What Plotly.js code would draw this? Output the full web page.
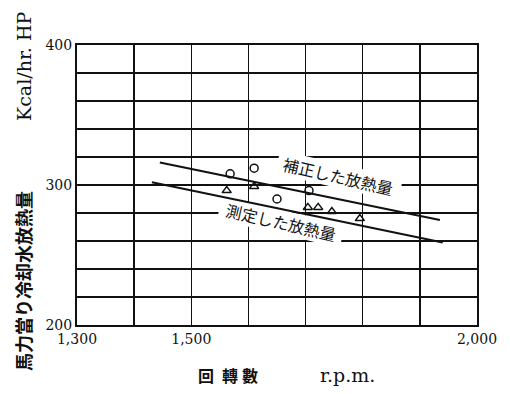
<!DOCTYPE html>
<html><head><meta charset="utf-8">
<script src="https://cdn.plot.ly/plotly-3.0.1.min.js"></script>
<style>html,body{margin:0;padding:0;background:#fff;}#c{width:510px;height:394px;}</style>
</head><body><div id="c"></div>
<script>
// 補正した放熱量 (circles)
const corrRpm = [1568, 1610, 1706, 1650];
const corrVal = [308, 312, 296, 290];
// 測定した放熱量 (triangles)
const measRpm = [1562, 1610, 1704, 1722, 1746, 1795];
const measVal = [296, 299, 284, 284, 281, 276];
// fitted lines
const corrLineRpm = [1445, 1935];
const corrLineVal = [316, 275];
const measLineRpm = [1431, 1940];
const measLineVal = [302, 259];
// ticks
const xTicks = [1300, 1400, 1500, 1600, 1700, 1800, 1900, 2000];
const xTickText = ["1,300", "", "1,500", "", "", "", "", "2,000"];
const yTicks = [200, 220, 240, 260, 280, 300, 320, 340, 360, 380, 400];
const yTickText = ["200", "", "", "", "", "300", "", "", "", "", "400"];
const labels = ["補正した放熱量", "測定した放熱量"];
const xTitleParts = ["回", "轉", "數", "r.p.m."];
const yTitleParts = ["馬力當り冷却水放熱量", "Kcal/hr. HP"];

const serif = "DejaVu Serif, Liberation Serif, serif";
const jp = "Noto Sans CJK JP, sans-serif";

const traces = [
  {x: corrLineRpm, y: corrLineVal, mode: 'lines', line: {color: '#111', width: 2}, hoverinfo: 'skip'},
  {x: measLineRpm, y: measLineVal, mode: 'lines', line: {color: '#111', width: 2}, hoverinfo: 'skip'},
  {x: corrRpm, y: corrVal, mode: 'markers', marker: {symbol: 'circle-open', size: 8, color: '#111', line: {width: 1.5}}},
  {x: measRpm, y: measVal, mode: 'markers', marker: {symbol: 'triangle-up-open', size: 8, color: '#111', line: {width: 1.5}}}
];

const L = 77, R = 477, T = 45, B = 325;
const W = R - L, H = B - T;
function px(xp, yp) { return {x: (xp - L) / W, y: (B - yp) / H}; }
function toData(xp, yp) { return [1300 + (xp - L) / W * 700, 200 + (B - yp) / H * 200]; }
function paperAnn(text, xp, yp, font, angle) {
  const p = px(xp, yp);
  return {text: text, x: p.x, y: p.y, xref: 'paper', yref: 'paper', showarrow: false,
    xanchor: 'center', yanchor: 'middle', textangle: angle || 0, font: font};
}
// white rotated box between grid and traces (gap in the grid behind a label)
function gapBox(cx, cy, w, h, deg) {
  const a = deg * Math.PI / 180, c = Math.cos(a), s = Math.sin(a);
  const pts = [[-w/2, -h/2], [w/2, -h/2], [w/2, h/2], [-w/2, h/2]].map(([u, v]) =>
    toData(cx + u * c - v * s, cy + u * s + v * c));
  const path = 'M' + pts.map(p => p[0] + ',' + p[1]).join(' L') + ' Z';
  return {type: 'path', path: path, xref: 'x', yref: 'y', layer: 'between',
    fillcolor: '#fff', line: {width: 0}};
}
function lineAnn(text, cx, cy, deg) {
  const d = toData(cx, cy);
  return {text: text, x: d[0], y: d[1], xref: 'x', yref: 'y', showarrow: false,
    xanchor: 'center', yanchor: 'middle', textangle: deg,
    font: {family: jp, size: 16, color: '#111'}};
}

const layout = {
  width: 510, height: 394,
  margin: {l: L, r: 510 - R, t: T, b: 394 - B},
  showlegend: false,
  paper_bgcolor: '#fff', plot_bgcolor: '#fff',
  xaxis: {
    range: [1300, 2000], tickvals: xTicks, ticktext: xTickText,
    showgrid: true, gridcolor: '#111', gridwidth: 1.5,
    showline: true, linecolor: '#111', linewidth: 2, mirror: true,
    ticks: '', zeroline: false,
    tickfont: {family: serif, size: 14, color: '#111'}
  },
  yaxis: {
    range: [200, 400], tickvals: yTicks, ticktext: yTickText,
    showgrid: true, gridcolor: '#111', gridwidth: 1.5,
    showline: true, linecolor: '#111', linewidth: 2, mirror: true,
    ticks: '', zeroline: false, ticklabelstandoff: 0,
    tickfont: {family: serif, size: 14, color: '#111'}
  },
  shapes: [
    gapBox(339, 176, 126, 24, 13),
    gapBox(281, 222, 126, 24, 13)
  ],
  annotations: [
    lineAnn(labels[0], 338, 176, 13),
    lineAnn(labels[1], 281, 222, 13),
    paperAnn(xTitleParts[0], 206, 375, {family: jp, size: 16, color: '#111', weight: 'bold'}),
    paperAnn(xTitleParts[1], 230, 375, {family: jp, size: 16, color: '#111', weight: 'bold'}),
    paperAnn(xTitleParts[2], 250, 375, {family: jp, size: 16, color: '#111', weight: 'bold'}),
    paperAnn(xTitleParts[3], 347, 375, {family: serif, size: 19, color: '#111'}),
    paperAnn(yTitleParts[0], 23, 281, {family: jp, size: 18, color: '#111', weight: 'bold'}, -90),
    paperAnn(yTitleParts[1], 24, 66, {family: serif, size: 19, color: '#111'}, -90)
  ]
};
Plotly.newPlot('c', traces, layout, {staticPlot: true});
</script></body></html>
